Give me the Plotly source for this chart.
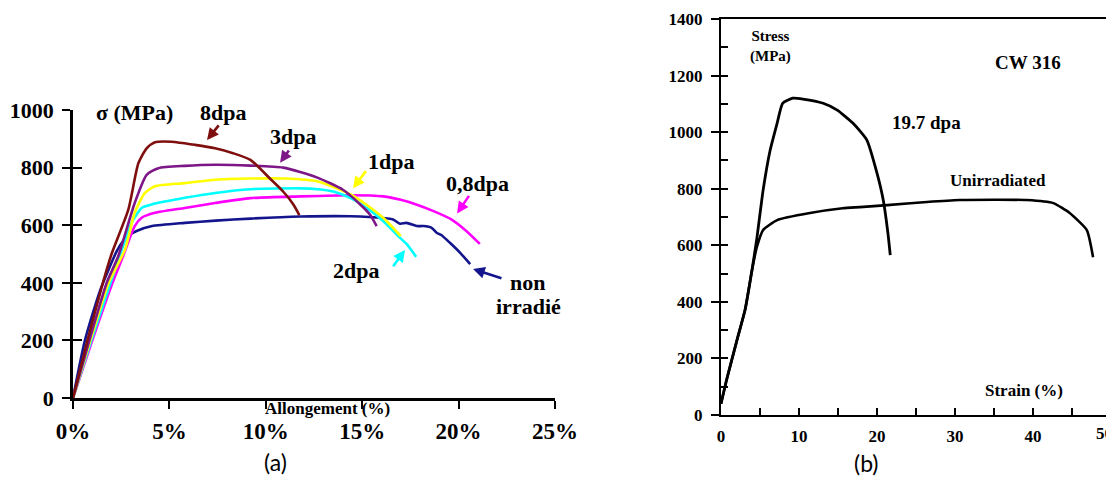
import plotly.graph_objects as go

W, H = 1106, 480

# ---------------- Panel (a) data: strain (%) vs stress (MPa) ----------------
non_irr_x = [0, 0.62, 1.4, 2.27, 2.6, 2.9, 3.3, 4.1, 5.8, 7.4, 9.2, 11.8, 14.4, 16.1, 16.6, 16.96, 17.3, 17.83, 18.17, 18.6, 18.86, 19.1, 19.55, 20.07, 20.6]
non_irr_y = [0, 200, 372, 510, 545, 565, 580, 597, 608, 616, 623, 630, 631, 625, 620, 605, 608, 597, 597, 591, 574, 566, 539, 505, 465]

dpa08_x = [0, 1.0, 2.05, 2.6, 3.2, 3.56, 4.25, 5.8, 7.37, 9.2, 11.8, 14.4, 16.1, 17.0, 17.8, 18.7, 19.6, 20.4, 21.1]
dpa08_y = [0, 200, 400, 493, 597, 626, 643, 660, 677, 694, 700, 704, 700, 688, 672, 649, 621, 580, 535]

dpa2_x = [0, 0.95, 1.95, 3.04, 3.56, 4.08, 5.8, 7.37, 9.2, 11.8, 12.7, 13.5, 14.4, 15.23, 16.1, 16.96, 17.3, 17.8]
dpa2_y = [0, 200, 400, 608, 660, 672, 695, 712, 725, 728, 725, 717, 694, 660, 614, 556, 535, 490]

dpa1_x = [0, 0.9, 1.85, 2.7, 3.2, 3.73, 4.25, 5.8, 7.37, 9.2, 11.0, 12.7, 14.4, 15.2, 16.1, 17.0]
dpa1_y = [0, 200, 400, 516, 643, 712, 735, 746, 758, 762, 762, 752, 707, 672, 625, 562]

dpa3_x = [0, 0.85, 1.75, 2.35, 3.2, 3.82, 4.43, 5.8, 7.37, 9.2, 10.9, 12.64, 14.0, 14.9, 15.4, 15.75]
dpa3_y = [0, 200, 400, 493, 677, 775, 798, 806, 810, 807, 800, 766, 723, 672, 637, 597]

dpa8_x = [0, 0.75, 1.55, 2.0, 2.87, 3.39, 3.82, 4.25, 5.1, 6.33, 7.37, 8.3, 9.2, 10.2, 10.9, 11.43, 11.74]
dpa8_y = [0, 200, 400, 500, 654, 815, 867, 888, 890, 879, 867, 850, 827, 763, 717, 672, 635]

series_a = [
    ("non irradié", non_irr_x, non_irr_y, "#14148c"),
    ("0,8dpa", dpa08_x, dpa08_y, "#ff00ff"),
    ("2dpa", dpa2_x, dpa2_y, "#00ffff"),
    ("1dpa", dpa1_x, dpa1_y, "#ffff00"),
    ("3dpa", dpa3_x, dpa3_y, "#7d1687"),
    ("8dpa", dpa8_x, dpa8_y, "#7f0f0f"),
]

a_xticks = [0, 5, 10, 15, 20, 25]
a_xticktext = ["0%", "5%", "10%", "15%", "20%", "25%"]
a_yticks = [0, 200, 400, 600, 800, 1000]

# label text position, arrow tail, arrow head (data coords)
a_labels = [
    ("8dpa", (7.78, 993), (7.62, 952), (6.95, 896), "#7f0f0f"),
    ("3dpa", (11.41, 907), (11.25, 865), (10.74, 817), "#7d1687"),
    ("1dpa", (16.49, 821), (15.25, 793), (14.52, 728), "#ffff00"),
    ("0,8dpa", (21.0, 745), (20.59, 707), (19.92, 641), "#ff00ff"),
    ("2dpa", (14.68, 441), (16.55, 452), (17.22, 514), "#00ffff"),
    ("non", (23.55, 400), (22.3, 414), (20.75, 448), "#14148c"),
]
extra_labels_a = [("irradié", (23.6, 317))]

# ---------------- Panel (b) data ----------------
irr197_x = [0, 0.77, 2.05, 3.08, 3.97, 4.6, 5.4, 6.3, 7.2, 7.9, 9.2, 10.5, 13.1, 14.9, 16.9, 18.7, 20.0, 20.8, 21.4, 21.7]
irr197_y = [40, 130, 265, 371, 512, 625, 795, 936, 1032, 1102, 1120, 1117, 1102, 1078, 1032, 972, 855, 760, 643, 565]

unirr_x = [0, 0.77, 2.05, 3.08, 3.97, 4.6, 5.4, 7.2, 11.4, 15.6, 17.8, 21.3, 26.4, 30.6, 35.0, 39.2, 42.6, 44.7, 46.9, 47.7]
unirr_y = [40, 130, 265, 371, 512, 594, 654, 689, 714, 731, 735, 742, 753, 760, 761, 760, 749, 714, 654, 558]

b_xticks = [0, 5, 10, 15, 20, 25, 30, 35, 40, 45]
b_xticktext = ["0", "", "10", "", "20", "", "30", "", "40", ""]
b_yticks = [0, 200, 400, 600, 800, 1000, 1200, 1400]
b_yminor = list(range(0, 1401, 100))
b_xmax = (W - 721) / (1111 - 721) * 50  # axis runs past right edge of the picture

SERIF = "Liberation Serif"

fig = go.Figure()

for name, xs, ys, col in series_a:
    fig.add_trace(go.Scatter(x=xs, y=ys, mode="lines", name=name,
                             line=dict(color=col, width=2.6, shape="spline", smoothing=0.6),
                             xaxis="x", yaxis="y", showlegend=False, hoverinfo="skip"))

fig.add_trace(go.Scatter(x=unirr_x, y=unirr_y, mode="lines", name="Unirradiated",
                         line=dict(color="black", width=2.6, shape="spline", smoothing=0.5),
                         xaxis="x2", yaxis="y2", showlegend=False))
fig.add_trace(go.Scatter(x=irr197_x, y=irr197_y, mode="lines", name="19.7 dpa",
                         line=dict(color="black", width=2.8, shape="spline", smoothing=0.5),
                         xaxis="x2", yaxis="y2", showlegend=False))
# empty helpers so the overlay tick axes are drawn
fig.add_trace(go.Scatter(x=[None], y=[None], xaxis="x", yaxis="y3", showlegend=False))
fig.add_trace(go.Scatter(x=[None], y=[None], xaxis="x2", yaxis="y4", showlegend=False))

ax_a_dom_x = [73 / W, 555 / W]
ax_a_dom_y = [82 / H, 370 / H]
ax_b_dom_x = [721 / W, 1.0]
ax_b_dom_y = [65 / H, 461 / H]

fig.update_layout(
    width=W, height=H, margin=dict(l=0, r=0, t=0, b=0, autoexpand=False),
    paper_bgcolor="white", plot_bgcolor="rgba(0,0,0,0)",
    xaxis=dict(domain=ax_a_dom_x, range=[0, 25], anchor="y", showgrid=False, zeroline=False,
               automargin=False,
               showline=True, linecolor="black", linewidth=2.6,
               tickvals=a_xticks, ticktext=a_xticktext, ticks="outside", ticklen=8, tickwidth=2.4,
               tickcolor="black", ticklabelstandoff=3,
               tickfont=dict(family=SERIF, size=23, color="black", weight="bold")),
    yaxis=dict(domain=ax_a_dom_y, range=[0, 1000], anchor="x", showgrid=False, zeroline=False,
               automargin=False,
               showline=True, linecolor="black", linewidth=2.6,
               tickvals=a_yticks, ticks="outside", ticklen=8, tickwidth=2.4, tickcolor="black",
               ticklabelstandoff=4,
               tickfont=dict(family=SERIF, size=22, color="black", weight="bold")),
    yaxis3=dict(domain=ax_a_dom_y, range=[0, 1000], anchor="x", overlaying="y", showgrid=False,
                automargin=False,
                zeroline=False, showline=False, tickvals=a_yticks, ticks="inside", ticklen=9,
                tickwidth=2.4, tickcolor="black", showticklabels=False),
    xaxis2=dict(domain=ax_b_dom_x, range=[0, b_xmax], anchor="y2", showgrid=False, zeroline=False,
                automargin=False,
                showline=True, linecolor="black", linewidth=2, mirror=True,
                tickvals=b_xticks, ticktext=b_xticktext, ticks="inside", ticklen=7, tickwidth=2,
                tickcolor="black", ticklabelstandoff=5,
                tickfont=dict(family=SERIF, size=17, color="black", weight="bold")),
    yaxis2=dict(domain=ax_b_dom_y, range=[0, 1400], anchor="x2", showgrid=False, zeroline=False,
                automargin=False,
                showline=True, linecolor="black", linewidth=2.2,
                tickvals=b_yticks, ticks="outside", ticklen=8, tickwidth=2, tickcolor="black",
                ticklabelstandoff=5,
                tickfont=dict(family=SERIF, size=17, color="black", weight="bold")),
    yaxis4=dict(domain=ax_b_dom_y, range=[0, 1400], anchor="x2", overlaying="y2", showgrid=False,
                automargin=False,
                zeroline=False, showline=False, tickvals=b_yminor, ticks="inside", ticklen=7,
                tickwidth=2, tickcolor="black", showticklabels=False),
)

C = dict(xanchor="center", yanchor="middle", showarrow=False)

ann = []
for text, (tx, ty), (ax0, ay0), (hx, hy), col in a_labels:
    ann.append(dict(x=tx, y=ty, xref="x", yref="y", text=f"<b>{text}</b>",
                    font=dict(family=SERIF, size=22, color="black"), **C))
    ann.append(dict(x=hx, y=hy, ax=ax0, ay=ay0, xref="x", yref="y", axref="x", ayref="y",
                    text="", showarrow=True, arrowhead=2, arrowsize=0.9, arrowwidth=2.6,
                    arrowcolor=col, standoff=0, startstandoff=0))
for text, (tx, ty) in extra_labels_a:
    ann.append(dict(x=tx, y=ty, xref="x", yref="y", text=f"<b>{text}</b>",
                    font=dict(family=SERIF, size=22, color="black"), **C))

ann += [
    dict(x=3.2, y=993, xref="x", yref="y", text="<b>σ (MPa)</b>",
         font=dict(family=SERIF, size=22, color="black"), **C),
    dict(x=(327 - 73) / 482, y=-0.038, xref="x domain", yref="y domain", text="<b>Allongement (%)</b>",
         font=dict(family=SERIF, size=17, color="black"), **C),
    dict(x=6.4, y=1304, xref="x2", yref="y2", text="<b>Stress<br>(MPa)</b>",
         font=dict(family=SERIF, size=15, color="black"), align="center", **C),
    dict(x=39.4, y=1247, xref="x2", yref="y2", text="<b>CW 316</b>",
         font=dict(family=SERIF, size=19, color="black"), **C),
    dict(x=26.4, y=1035, xref="x2", yref="y2", text="<b>19.7 dpa</b>",
         font=dict(family=SERIF, size=19, color="black"), **C),
    dict(x=35.5, y=830, xref="x2", yref="y2", text="<b>Unirradiated</b>",
         font=dict(family=SERIF, size=17, color="black"), **C),
    dict(x=38.8, y=85, xref="x2", yref="y2", text="<b>Strain (%)</b>",
         font=dict(family=SERIF, size=17, color="black"), **C),
    dict(x=50 / b_xmax, y=0, xref="x2 domain", yref="y2 domain", xanchor="center", yanchor="top",
         yshift=-7, xshift=-7, showarrow=False,
         text="<b>50</b>", font=dict(family=SERIF, size=17, color="black")),
    dict(x=275 / W, y=1 - 462 / H, xref="paper", yref="paper", text="(a)",
         font=dict(family="Lato", size=23, color="black"), **C),
    dict(x=866 / W, y=1 - 463 / H, xref="paper", yref="paper", text="(b)",
         font=dict(family="Lato", size=23, color="black"), **C),
]
fig.update_layout(annotations=ann)

fig.write_html("out.html", config={"displayModeBar": False},
               post_script="document.body.style.margin='0';document.body.style.overflow='hidden';")
